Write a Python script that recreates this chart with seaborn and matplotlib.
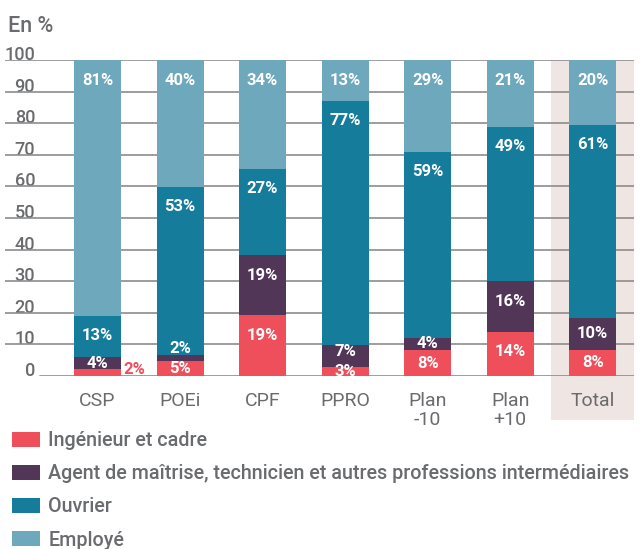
import numpy as np
import pandas as pd
import matplotlib
matplotlib.use("Agg")
import matplotlib.pyplot as plt
from matplotlib.patches import Patch, Rectangle
import seaborn as sns

# Share of each socio-professional category per training scheme (in %)
categories = ["CSP", "POEi", "CPF", "PPRO", "Plan -10", "Plan +10", "Total"]
ingenieur = [2.0, 4.8, 19.1, 2.9, 8.0, 14.0, 8.3]
agent = [4.0, 1.9, 19.1, 6.9, 3.8, 15.9, 9.9]
ouvrier = [13.0, 53.2, 27.4, 77.4, 59.2, 49.1, 61.4]
employe = [81.0, 40.1, 34.4, 12.8, 29.0, 21.0, 20.4]
series_names = [
    "Ingénieur et cadre",
    "Agent de maîtrise, technicien et autres professions intermédiaires",
    "Ouvrier",
    "Employé",
]
y_ticks = list(range(0, 101, 10))

series_values = [ingenieur, agent, ouvrier, employe]
colors = ["#EF4F5B", "#523657", "#157C9C", "#6EA8BD"]
GRAY = "#6A6B6E"
GRID = "#8C8C8C"
SHADE = "#EFE6E4"

sns.set_style("white")
plt.rcParams["font.family"] = ["Roboto", "DejaVu Sans"]

W, H = 641, 549
fig = plt.figure(figsize=(W / 100, H / 100), dpi=100)
y0_px, y100_px = 375.7, 60.3
ax = fig.add_axes([5 / W, (H - y0_px) / H, 629 / W, (y0_px - y100_px) / H])
ax.patch.set_alpha(0)

bar_w = 0.57
df = pd.DataFrame({"categorie": categories})
bottom = np.zeros(len(categories))
for name, vals, col in zip(series_names, series_values, colors):
    df[name] = vals
    sns.barplot(data=df, x="categorie", y=name, order=categories, bottom=bottom,
                color=col, width=bar_w, saturation=1, linewidth=0, ax=ax, zorder=2)
    bottom = bottom + np.asarray(vals)

# Axes limits: 0..100 %, left margin leaves room for the y labels
x_left = -(97.5 - 5) / ((634 - 97.5) / 6.5)
ax.set_xlim(x_left, 6.5)
ax.set_ylim(0, 100)
ax.set_xlabel("")
ax.set_ylabel("")

# Highlight of the "Total" column
ax.add_patch(Rectangle((5.5, -14.05), 1.0, 114.05, facecolor=SHADE, edgecolor="none",
                       transform=ax.transData, clip_on=False, zorder=0))

# Horizontal guide lines; the baseline starts right of the "0" label
zero_start = (40 - 5) / 629
for yv in y_ticks:
    ax.axhline(yv, xmin=zero_start if yv == 0 else 0, xmax=1, color=GRID,
               lw=1.2, zorder=1)

for side in ["top", "right", "left"]:
    ax.spines[side].set_visible(False)
ax.spines["bottom"].set_position(("outward", 6.5))
ax.spines["bottom"].set_visible(False)

# Y axis: labels sitting on their guide lines
ax.set_yticks(y_ticks)
ax.tick_params(axis="y", length=0, pad=-21.6, labelsize=13, labelcolor=GRAY)
for lbl in ax.get_yticklabels():
    lbl.set_verticalalignment("baseline")
    lbl.set_fontweight("medium")

# X axis: category names, small separators between columns
display_labels = [c.replace(" ", "\n") for c in categories]
ax.set_xticks(range(len(categories)), labels=display_labels)
ax.set_xticks(np.arange(-0.5, len(categories), 1.0), minor=True)
ax.tick_params(axis="x", which="major", length=0, pad=5.2, labelsize=14,
               labelcolor=GRAY)
ax.tick_params(axis="x", which="minor", length=8, width=1.2, color=GRID,
               direction="out")
for lbl in ax.get_xticklabels():
    lbl.set_linespacing(1.05)

# Value labels inside each segment
outside = {("CSP", "Ingénieur et cadre")}
px_per_unit = (y0_px - y100_px) / 100
top_offset = 20 / px_per_unit
min_gap = 6.3
for i, cat in enumerate(categories):
    base = 0.0
    prev_center = None
    for name, vals, col in zip(series_names, series_values, colors):
        v = vals[i]
        top = base + v
        text = f"{round(v):d}%"
        if (cat, name) in outside:
            ax.text(i + bar_w / 2 + 0.03, 0.6, text, color=col, fontsize=12,
                    fontweight="bold", ha="left", va="baseline", zorder=4)
            prev_center = None
        else:
            center = top - min(top_offset, v / 2)
            if prev_center is not None:
                center = max(center, prev_center + min_gap)
            ax.text(i, center, text, color="white", fontsize=12,
                    fontweight="bold", ha="center", va="center", zorder=4)
            prev_center = center
        base = top

fig.text(8 / W, (H - 32.3) / H, "En %", fontsize=15.5, color=GRAY,
         va="baseline", fontweight="medium")

handles = [Patch(facecolor=c, edgecolor="none") for c in colors]
leg = fig.legend(handles, series_names, loc="upper left",
                 bbox_to_anchor=(12 / W, (H - 431) / H), frameon=False,
                 fontsize=14.2, handlelength=1.4, handleheight=0.78,
                 handletextpad=0.45, labelspacing=0.72, borderpad=0,
                 borderaxespad=0, labelcolor=GRAY)
for t in leg.get_texts():
    t.set_fontweight("medium")

fig.savefig("out.png", dpi=100)
